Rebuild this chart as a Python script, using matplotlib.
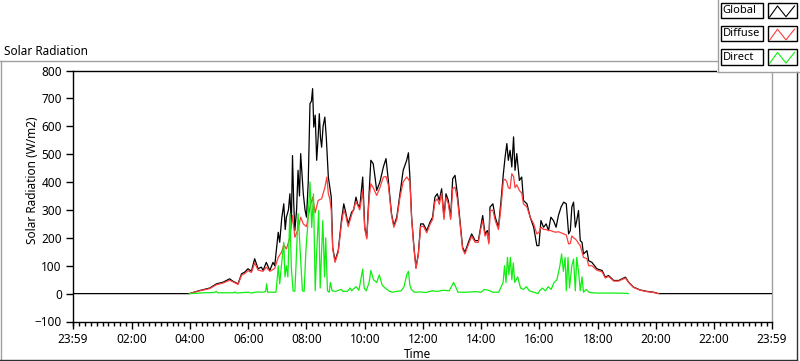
import numpy as np
import matplotlib
matplotlib.use('Agg')
import matplotlib.pyplot as plt
from matplotlib.patches import Rectangle

plt.rcParams['font.family'] = ['Noto Sans', 'DejaVu Sans']

# Datos (hora del dia, W/m2)
global_t = [0.0, 3.98, 4.33, 4.68, 4.91, 5.14, 5.36, 5.48, 5.65, 5.77, 5.88, 5.99, 6.11, 6.22, 6.34, 6.45,
            6.51, 6.62, 6.74, 6.85, 6.91, 7.03, 7.08, 7.15, 7.22, 7.27, 7.31, 7.38, 7.43, 7.48, 7.52, 7.56,
            7.6, 7.66, 7.71, 7.76, 7.8, 7.85, 7.89, 7.95, 8.0, 8.06, 8.12, 8.17, 8.21, 8.25, 8.3, 8.35,
            8.4, 8.44, 8.48, 8.52, 8.57, 8.63, 8.68, 8.75, 8.8, 8.85, 8.9, 8.98, 9.09, 9.2, 9.28, 9.35,
            9.43, 9.55, 9.62, 9.7, 9.76, 9.83, 9.93, 10.0, 10.07, 10.15, 10.21, 10.29, 10.35, 10.41, 10.52, 10.64,
            10.73, 10.81, 10.92, 11.0, 11.1, 11.21, 11.32, 11.44, 11.5, 11.55, 11.61, 11.69, 11.76, 11.84, 11.92, 12.01,
            12.13, 12.24, 12.33, 12.41, 12.49, 12.56, 12.64, 12.72, 12.79, 12.87, 12.95, 13.02, 13.1, 13.18, 13.27, 13.36,
            13.44, 13.56, 13.67, 13.79, 13.9, 13.98, 14.05, 14.13, 14.21, 14.26, 14.3, 14.4, 14.48, 14.59, 14.67, 14.76,
            14.82, 14.88, 14.93, 14.99, 15.05, 15.11, 15.16, 15.22, 15.31, 15.39, 15.45, 15.57, 15.68, 15.8, 15.91, 15.98,
            16.05, 16.14, 16.23, 16.31, 16.39, 16.48, 16.57, 16.65, 16.74, 16.83, 16.92, 17.0, 17.06, 17.11, 17.17, 17.23,
            17.28, 17.34, 17.4, 17.46, 17.51, 17.63, 17.69, 17.8, 17.97, 18.15, 18.26, 18.37, 18.55, 18.72, 18.95, 19.06,
            19.23, 19.46, 19.69, 19.92, 20.09, 24.0]
global_v = [0, 0, 11, 20, 35, 41, 53, 44, 35, 71, 77, 89, 80, 125, 89, 95,
            83, 112, 83, 112, 100, 220, 184, 270, 322, 230, 274, 300, 358, 250, 495, 330,
            226, 300, 442, 350, 502, 420, 358, 300, 274, 400, 681, 690, 735, 597, 640, 478,
            560, 645, 560, 525, 600, 633, 560, 418, 382, 346, 166, 118, 154, 262, 322, 290,
            250, 292, 300, 346, 320, 310, 418, 238, 202, 358, 478, 466, 420, 370, 400, 454,
            484, 406, 286, 244, 274, 358, 442, 478, 505, 418, 274, 166, 94, 143, 250, 250,
            226, 256, 274, 346, 358, 334, 376, 274, 358, 334, 274, 412, 424, 358, 262, 166,
            148, 184, 214, 190, 190, 238, 280, 214, 226, 184, 310, 322, 274, 238, 322, 430,
            490, 538, 478, 514, 454, 562, 442, 502, 406, 418, 334, 322, 274, 238, 172, 172,
            262, 238, 250, 226, 274, 262, 238, 280, 310, 328, 322, 214, 226, 310, 328, 238,
            262, 298, 190, 184, 142, 154, 118, 112, 89, 83, 59, 65, 47, 47, 59, 41,
            23, 13, 8, 5, 0, 0]

diffuse_t = [3.98, 4.33, 4.68, 4.91, 5.14, 5.36, 5.48, 5.65, 5.77, 5.88, 5.99, 6.11, 6.22, 6.34, 6.51, 6.62,
             6.74, 6.91, 7.03, 7.15, 7.22, 7.31, 7.43, 7.52, 7.6, 7.71, 7.8, 7.89, 8.0, 8.12, 8.21, 8.3,
             8.4, 8.52, 8.63, 8.7, 8.75, 8.8, 8.85, 8.9, 8.98, 9.09, 9.2, 9.28, 9.35, 9.43, 9.55, 9.7,
             9.83, 9.93, 10.0, 10.07, 10.15, 10.21, 10.29, 10.41, 10.52, 10.64, 10.73, 10.81, 10.92, 11.0, 11.1, 11.21,
             11.32, 11.44, 11.5, 11.55, 11.61, 11.69, 11.76, 11.84, 11.92, 12.01, 12.13, 12.24, 12.33, 12.41, 12.49, 12.56,
             12.64, 12.72, 12.79, 12.87, 12.95, 13.02, 13.1, 13.18, 13.27, 13.36, 13.44, 13.56, 13.67, 13.79, 13.9, 13.98,
             14.05, 14.13, 14.21, 14.26, 14.3, 14.4, 14.48, 14.59, 14.67, 14.76, 14.82, 14.88, 14.93, 14.99, 15.05, 15.11,
             15.16, 15.22, 15.31, 15.39, 15.45, 15.57, 15.68, 15.8, 15.91, 15.98, 16.05, 16.14, 16.23, 16.31, 16.39, 16.48,
             16.57, 16.65, 16.74, 16.83, 16.92, 17.0, 17.06, 17.11, 17.17, 17.23, 17.28, 17.34, 17.4, 17.46, 17.51, 17.63,
             17.69, 17.8, 17.97, 18.15, 18.26, 18.37, 18.55, 18.72, 18.95, 19.06, 19.23, 19.46, 19.69, 19.92, 20.09]
diffuse_v = [0, 10, 18, 32, 38, 48, 42, 33, 66, 72, 82, 76, 110, 84, 80, 95,
             80, 90, 130, 150, 175, 160, 200, 280, 202, 230, 274, 250, 240, 310, 346, 290,
             334, 340, 380, 418, 358, 340, 300, 160, 112, 148, 250, 300, 280, 240, 282, 330,
             300, 370, 232, 196, 340, 394, 380, 352, 380, 418, 420, 390, 280, 238, 266, 345,
             400, 418, 410, 400, 268, 160, 90, 138, 240, 242, 218, 248, 266, 330, 340, 320,
             360, 266, 345, 322, 266, 376, 382, 340, 252, 160, 142, 176, 206, 184, 184, 230,
             262, 206, 218, 178, 295, 300, 262, 230, 300, 406, 410, 400, 380, 376, 430, 420,
             380, 390, 370, 360, 322, 310, 274, 250, 214, 220, 238, 230, 230, 226, 226, 222,
             220, 222, 218, 214, 210, 178, 180, 207, 200, 196, 190, 180, 172, 150, 130, 125,
             100, 100, 84, 78, 56, 62, 45, 45, 56, 40, 22, 12, 7, 4, 0]

direct_t = [3.98, 4.5, 4.85, 4.9, 4.95, 5.5, 5.55, 5.6, 6.0, 6.1, 6.3, 6.5, 6.6, 6.63, 6.67, 6.95,
            7.0, 7.03, 7.08, 7.13, 7.22, 7.26, 7.31, 7.36, 7.43, 7.48, 7.54, 7.6, 7.64, 7.71, 7.76, 7.8,
            7.86, 7.92, 7.98, 8.04, 8.12, 8.18, 8.24, 8.3, 8.35, 8.42, 8.47, 8.52, 8.56, 8.62, 8.66, 8.72,
            8.78, 8.82, 8.88, 9.0, 9.1, 9.2, 9.25, 9.4, 9.5, 9.55, 9.7, 9.8, 9.93, 9.98, 10.05, 10.15,
            10.21, 10.3, 10.41, 10.5, 10.6, 10.7, 10.85, 10.95, 11.1, 11.25, 11.35, 11.44, 11.5, 11.55, 11.6, 11.7,
            11.9, 12.1, 12.3, 12.5, 12.7, 12.9, 13.0, 13.05, 13.12, 13.2, 13.5, 13.8, 14.0, 14.1, 14.25, 14.4,
            14.6, 14.75, 14.8, 14.85, 14.9, 14.95, 15.0, 15.05, 15.1, 15.15, 15.25, 15.35, 15.45, 15.55, 15.65, 15.8,
            15.95, 16.0, 16.1, 16.2, 16.3, 16.4, 16.5, 16.6, 16.7, 16.76, 16.82, 16.88, 16.92, 16.98, 17.03, 17.11,
            17.17, 17.23, 17.28, 17.34, 17.4, 17.46, 17.51, 17.6, 17.7, 17.8, 18.0, 18.5, 19.0, 19.05]
direct_v = [0, 3, 4, 8, 3, 3, 6, 2, 5, 2, 6, 5, 8, 35, 5, 5,
            60, 100, 35, 90, 184, 60, 100, 60, 287, 93, 10, 8, 100, 287, 200, 120,
            10, 8, 155, 240, 400, 237, 358, 10, 150, 298, 20, 150, 262, 60, 200, 10,
            5, 40, 10, 8, 12, 15, 8, 8, 20, 10, 25, 12, 88, 20, 10, 40,
            83, 50, 40, 67, 30, 20, 8, 5, 8, 10, 25, 67, 80, 30, 15, 5,
            6, 4, 10, 8, 12, 10, 30, 40, 25, 5, 5, 7, 5, 15, 12, 5,
            5, 40, 100, 40, 130, 67, 130, 50, 110, 40, 60, 20, 15, 25, 10, 5,
            0, 10, 20, 10, 25, 15, 40, 50, 100, 142, 80, 130, 10, 130, 20, 100,
            124, 10, 130, 80, 10, 60, 5, 15, 5, 3, 2, 2, 1, 0]

xtick_pos = [-1 / 60, 2, 4, 6, 8, 10, 12, 14, 16, 18, 20, 22, 24 - 1 / 60]
xtick_labels = ['23:59', '02:00', '04:00', '06:00', '08:00', '10:00', '12:00',
                '14:00', '16:00', '18:00', '20:00', '22:00', '23:59']
legend_names = ['Global', 'Diffuse', 'Direct']
colors = ['#000000', '#ff3c3c', '#10ee10']

W, H = 800, 361
fig = plt.figure(figsize=(W / 100, H / 100), dpi=100)
fig.patch.set_facecolor('white')

# area del grafico en pixeles
left, right, top, bottom = 73, 772, 70.5, 321.5
ax = fig.add_axes([left / W, 1 - bottom / H, (right - left) / W, (bottom - top) / H])
ax.plot(global_t, global_v, color=colors[0], lw=0.9, zorder=3)
ax.plot(diffuse_t, diffuse_v, color=colors[1], lw=0.9, zorder=4)
ax.plot(direct_t, direct_v, color=colors[2], lw=0.9, zorder=5)

ax.set_xlim(-1 / 60, 24 - 1 / 60)
ax.set_ylim(-100, 800)
ax.set_yticks(np.arange(-100, 801, 100))
ax.set_xticks(xtick_pos)
ax.set_xticklabels(xtick_labels)
ax.set_xticks(np.arange(0, 24, 0.2), minor=True)
ax.tick_params(axis='both', which='major', labelsize=8.5, length=5, width=1, pad=3, color='black')
ax.tick_params(axis='x', which='minor', length=3, width=1, color='black')
ax.tick_params(axis='y', which='minor', length=0)
for s in ['left', 'top', 'bottom']:
    ax.spines[s].set_color('black')
    ax.spines[s].set_linewidth(1)
ax.spines['right'].set_color('#a0a0a0')
ax.spines['right'].set_linewidth(1)

fig.text(32 / W, 1 - 180 / H, 'Solar Radiation (W/m2)', rotation=90, fontsize=8.5,
         ha='center', va='center')
fig.text(417 / W, 1 - 354 / H, 'Time', fontsize=8.5, ha='center', va='center')
fig.text(4 / W, 1 - 55 / H, 'Solar Radiation', fontsize=8.5, ha='left', va='baseline')

# marco y leyenda dibujados en pixeles
ov = fig.add_axes([0, 0, 1, 1], zorder=10)
ov.set_xlim(0, W)
ov.set_ylim(H, 0)
ov.axis('off')
ov.patch.set_alpha(0)

ov.plot([0, 717], [61, 61], color='#a0a0a0', lw=1)
ov.plot([0.5, 0.5], [61, H], color='#a0a0a0', lw=1)
ov.plot([0, 797], [360, 360], color='#303030', lw=1)
ov.plot([797, 797], [72, 360], color='#303030', lw=1)

ov.add_patch(Rectangle((717, 0), 83, 72, facecolor='white', edgecolor='none'))
ov.plot([717.5, 717.5], [0, 72], color='#a0a0a0', lw=1)
ov.plot([717.5, 800], [71.5, 71.5], color='#a0a0a0', lw=1)

for i, (name, c) in enumerate(zip(legend_names, colors)):
    y0 = 2.7 + i * 23.2
    ov.add_patch(Rectangle((720.7, y0), 42.6, 15.6, facecolor='white', edgecolor='black', lw=1))
    ov.add_patch(Rectangle((767.7, y0), 29, 15.6, facecolor='white', edgecolor='black', lw=1))
    ov.text(722.5, y0 + 8, name, fontsize=8, ha='left', va='center')
    zx = [769.5, 777.5, 786, 794.5]
    zy = [y0 + 14.5, y0 + 3.3, y0 + 14, y0 + 3.3]
    ov.plot(zx, zy, color=c, lw=0.8)

fig.savefig('out.png', dpi=100)
